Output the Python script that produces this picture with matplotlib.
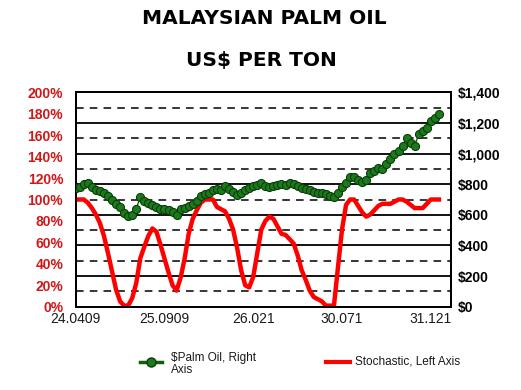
import matplotlib
matplotlib.use("Agg")
import matplotlib.pyplot as plt
from matplotlib.lines import Line2D
import numpy as np

plt.rcParams['font.family'] = ['Liberation Sans', 'DejaVu Sans']

title_lines = ["MALAYSIAN PALM OIL", "US$ PER TON"]
x_tick_labels = ["24.0409", "25.0909", "26.021", "30.071", "31.121"]
x_tick_index = [0, 22, 44, 66, 88]

palm_oil_usd = [775, 780, 800, 810, 780, 765, 755, 740, 720, 700,
                670, 650, 610, 590, 600, 640, 715, 690, 680, 665,
                650, 640, 635, 630, 620, 600, 640, 645, 655, 670,
                690, 720, 735, 745, 760, 770, 760, 790, 770, 750,
                730, 745, 760, 775, 785, 795, 805, 790, 780, 790,
                795, 800, 795, 805, 800, 785, 775, 768, 760, 752,
                745, 740, 735, 725, 715, 745, 780, 810, 845, 850,
                830, 815, 830, 870, 885, 905, 900, 935, 965, 995,
                1015, 1050, 1100, 1070, 1050, 1125, 1150, 1170, 1210, 1235,
                1260]

stochastic_pct = [100, 100, 100, 97, 92, 86, 78, 66, 50, 33,
                  16, 5, 1, 1, 8, 22, 45, 56, 66, 73,
                  70, 58, 45, 32, 20, 15, 27, 45, 68, 82,
                  90, 97, 100, 100, 100, 93, 91, 89, 82, 72,
                  55, 34, 20, 18, 28, 50, 72, 80, 84, 82,
                  75, 68, 67, 63, 59, 48, 34, 25, 15, 9,
                  7, 5, 1, 1, 1, 37, 72, 95, 100, 100,
                  94, 88, 84, 86, 90, 94, 96, 96, 96, 98,
                  100, 100, 98, 95, 92, 92, 92, 96, 100, 100,
                  100]

left_ticks = list(range(0, 201, 20))
right_major = list(range(0, 1401, 200))
right_minor = list(range(100, 1400, 200))

fig = plt.figure(figsize=(5.21, 3.90), dpi=100)
ax = fig.add_axes([0.1453, 0.2136, 0.7203, 0.5497])
ax2 = ax.twinx()

x = np.arange(len(palm_oil_usd))
xmax = 93

# gridlines (drawn in left axis, positioned by right-axis values)
for v in right_major[1:-1]:
    ax.axhline(v / 1400 * 200, color='black', lw=1.3, zorder=1)
for v in right_minor:
    ax.axhline(v / 1400 * 200, color='black', lw=1.1, ls=(0, (5, 4)), zorder=1)

ax.plot(x, stochastic_pct, color='#ff0000', lw=3.2, zorder=3, solid_joinstyle='round')
ax2.plot(x, palm_oil_usd, color='#0f5f0f', lw=1.0, marker='o', markersize=5.8,
         markerfacecolor='#1c7a1c', markeredgecolor='#0a3d0a', markeredgewidth=0.8, zorder=4)

ax.set_xlim(0, xmax)
ax.set_ylim(0, 200)
ax2.set_ylim(0, 1400)

ax.set_yticks(left_ticks)
ax.set_yticklabels([f"{t}%" for t in left_ticks], color='#d01818', fontweight='bold', fontsize=10)
ax2.set_yticks(right_major)
ax2.set_yticklabels(["\\$" + f"{v:,}" for v in right_major], color='black', fontweight='bold', fontsize=10)

ax.set_xticks(x_tick_index)
ax.set_xticklabels(x_tick_labels, fontsize=10, color='#1a1a1a')

ax.tick_params(axis='y', length=0, pad=9)
ax2.tick_params(axis='y', length=0, pad=5)
ax.tick_params(axis='x', length=0, pad=4)

for a in (ax, ax2):
    for s in a.spines.values():
        s.set_color('black')
        s.set_linewidth(1.4)

fig.text(0.508, 0.953, title_lines[0], ha='center', va='center', fontsize=14.5, fontweight='bold',
         family='DejaVu Sans')
fig.text(0.502, 0.846, title_lines[1], ha='center', va='center', fontsize=14.5, fontweight='bold',
         family='DejaVu Sans')

# legend
fig.add_artist(Line2D([140 / 521, 162 / 521], [1 - 362 / 390, 1 - 362 / 390], color='#0f5f0f', lw=2.5))
fig.add_artist(Line2D([151 / 521], [1 - 362 / 390], marker='o', markersize=6.5,
                      markerfacecolor='#1c7a1c', markeredgecolor='#0a3d0a', lw=0))
fig.text(171 / 521, 1 - 352 / 390, "\\$Palm Oil, Right\nAxis", ha='left', va='top', fontsize=8.5,
         linespacing=0.95, color='#1a1a1a')
fig.add_artist(Line2D([326 / 521, 350 / 521], [1 - 362 / 390, 1 - 362 / 390], color='#ff0000', lw=3))
fig.text(355 / 521, 1 - 362 / 390, "Stochastic, Left Axis", ha='left', va='center', fontsize=8.5,
         color='#1a1a1a')

fig.savefig("out.png", dpi=100)
